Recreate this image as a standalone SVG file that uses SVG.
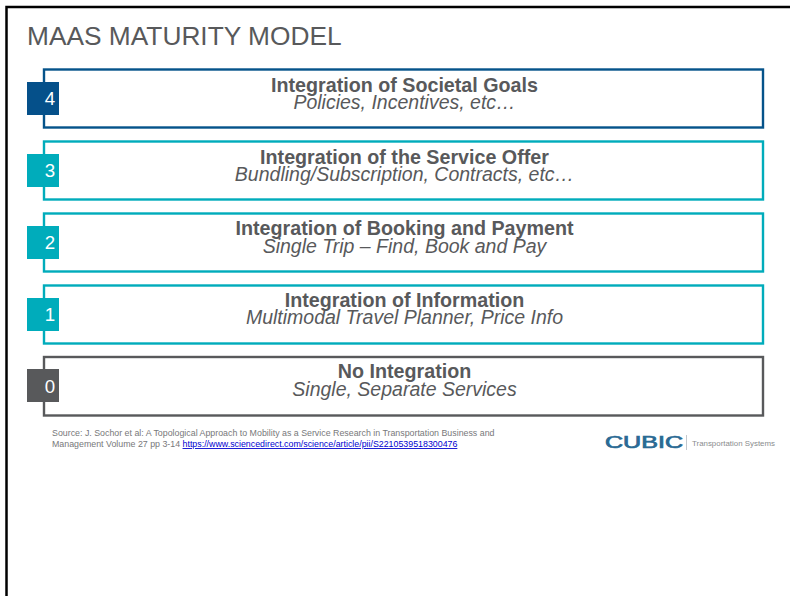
<svg xmlns="http://www.w3.org/2000/svg" width="790" height="596" viewBox="0 0 790 596">
<style>
text{font-family:"Liberation Sans",Arial,sans-serif}
.b{fill:#fff;stroke-width:2.400}
.h{font-size:19.700px;font-weight:bold;fill:#58595b;text-anchor:middle}
.s{font-size:19.500px;font-style:italic;fill:#58595b;text-anchor:middle}
.n{font-size:18.700px;fill:#fff;text-anchor:middle}
.f{font-size:8.830px;fill:#77787a}
</style>
<rect width="790" height="596" fill="#fff"/>
<path id="frame" d="M6.500 596V7H790" fill="none" stroke="#000" stroke-width="2.500"/>
<text id="title" x="27" y="45" font-size="26.300" fill="#58595b">MAAS MATURITY MODEL</text>
<g id="level-4">
<rect class="b" x="44" y="69.500" width="719" height="58" stroke="#05538a"/>
<rect x="27" y="82" width="32" height="33" fill="#05508a"/>
<text class="n" x="50" y="105">4</text>
<text class="h" x="404.500" y="91.500">Integration of Societal Goals</text>
<text class="s" x="404.500" y="109">Policies, Incentives, etc…</text>
</g>
<g id="level-3">
<rect class="b" x="44" y="141.500" width="719" height="58" stroke="#00acbb"/>
<rect x="27" y="154" width="32" height="33" fill="#00acbb"/>
<text class="n" x="50" y="177">3</text>
<text class="h" x="404.500" y="163.500">Integration of the Service Offer</text>
<text class="s" x="404.500" y="181">Bundling/Subscription, Contracts, etc…</text>
</g>
<g id="level-2">
<rect class="b" x="44" y="213.500" width="719" height="58" stroke="#00acbb"/>
<rect x="27" y="226" width="32" height="33" fill="#00acbb"/>
<text class="n" x="50" y="249">2</text>
<text class="h" x="404.500" y="234.500">Integration of Booking and Payment</text>
<text class="s" x="404.500" y="253">Single Trip – Find, Book and Pay</text>
</g>
<g id="level-1">
<rect class="b" x="44" y="285.500" width="719" height="58" stroke="#00acbb"/>
<rect x="27" y="298" width="32" height="33" fill="#00acbb"/>
<text class="n" x="50" y="321">1</text>
<text class="h" x="404.500" y="306.500">Integration of Information</text>
<text class="s" x="404.500" y="324">Multimodal Travel Planner, Price Info</text>
</g>
<g id="level-0">
<rect class="b" x="44" y="357" width="719" height="58.500" stroke="#58595b"/>
<rect x="27" y="369" width="32" height="33" fill="#58595b"/>
<text class="n" x="50" y="393">0</text>
<text class="h" x="404.500" y="378">No Integration</text>
<text class="s" x="404.500" y="396">Single, Separate Services</text>
</g>
<g id="source">
<text class="f" x="52" y="436">Source: J. Sochor et al: A Topological Approach to Mobility as a Service Research in Transportation Business and</text>
<text class="f" x="52" y="447">Management Volume 27 pp 3-14 <tspan fill="#0000d0" text-decoration="underline">https://www.sciencedirect.com/science/article/pii/S2210539518300476</tspan></text>
</g>
<g id="logo">
<text x="605" y="448" font-size="16" fill="#2a6a94" stroke="#2a6a94" stroke-width="0.700" textLength="78" lengthAdjust="spacingAndGlyphs">CUBIC</text>
<rect x="686" y="435" width="1" height="15" fill="#c4c8cc"/>
<text x="692" y="446" font-size="7" fill="#8a8c8e" textLength="83" lengthAdjust="spacingAndGlyphs">Transportation Systems</text>
</g>
</svg>
